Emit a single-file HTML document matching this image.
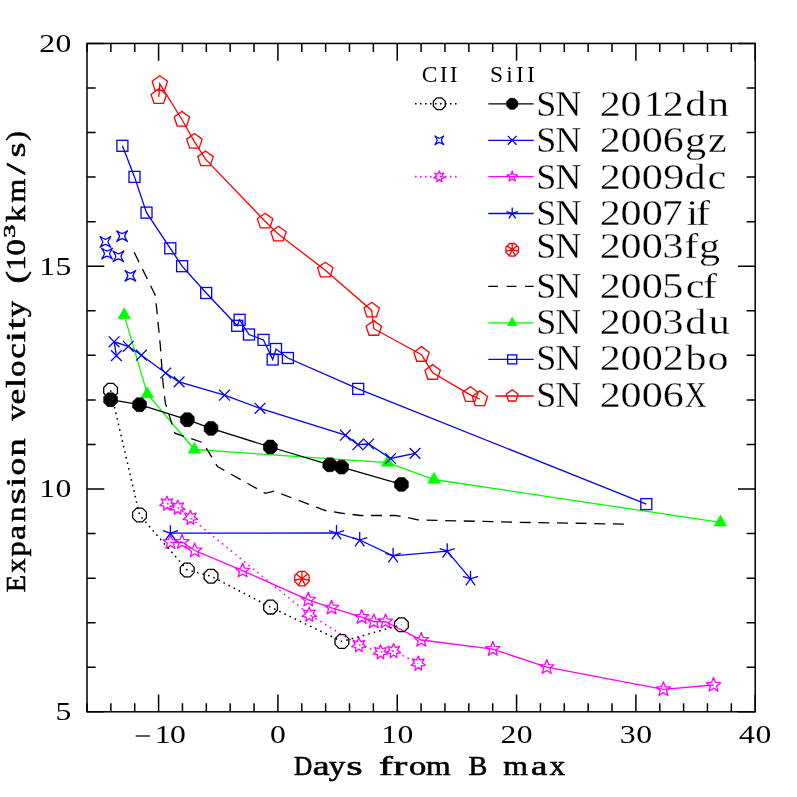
<!DOCTYPE html>
<html><head><meta charset="utf-8"><title>Expansion velocity</title>
<style>html,body{margin:0;padding:0;background:#fff;}svg{display:block;will-change:transform;}text{font-family:"Liberation Serif",serif;fill:#000;}</style></head><body>
<svg width="797" height="797" viewBox="0 0 797 797">
<rect x="0" y="0" width="797" height="797" fill="#fff"/>
<path d="M124.2 315.1L147.3 394L194.4 449.5L387.6 462.6L434 479.5L720.4 522.4" fill="none" stroke="#00ff00" stroke-width="1.3"/>
<polygon points="124.2,307.8 130.52,318.75 117.88,318.75" fill="#00ff00" stroke="#00ff00" stroke-width="0.6"/>
<polygon points="147.3,386.7 153.62,397.65 140.98,397.65" fill="#00ff00" stroke="#00ff00" stroke-width="0.6"/>
<polygon points="194.4,442.2 200.72,453.15 188.08,453.15" fill="#00ff00" stroke="#00ff00" stroke-width="0.6"/>
<polygon points="387.6,455.3 393.92,466.25 381.28,466.25" fill="#00ff00" stroke="#00ff00" stroke-width="0.6"/>
<polygon points="434,472.2 440.32,483.15 427.68,483.15" fill="#00ff00" stroke="#00ff00" stroke-width="0.6"/>
<polygon points="720.4,515.1 726.72,526.05 714.08,526.05" fill="#00ff00" stroke="#00ff00" stroke-width="0.6"/>
<path d="M122.4 145.8L134.5 176.9L146.5 212.6L170.3 248.3L182.1 266.2L206.2 293L237.2 325.8L239.6 319.8L249 334.5L263.5 339.9L272.7 359.5L276 349L287.9 358L358.2 388.9L646.3 504.1" fill="none" stroke="#0000ff" stroke-width="1.3"/>
<rect x="116.9" y="140.3" width="11" height="11" fill="none" stroke="#0000ff" stroke-width="1.3"/>
<rect x="129" y="171.4" width="11" height="11" fill="none" stroke="#0000ff" stroke-width="1.3"/>
<rect x="141" y="207.1" width="11" height="11" fill="none" stroke="#0000ff" stroke-width="1.3"/>
<rect x="164.8" y="242.8" width="11" height="11" fill="none" stroke="#0000ff" stroke-width="1.3"/>
<rect x="176.6" y="260.7" width="11" height="11" fill="none" stroke="#0000ff" stroke-width="1.3"/>
<rect x="200.7" y="287.5" width="11" height="11" fill="none" stroke="#0000ff" stroke-width="1.3"/>
<rect x="231.7" y="320.3" width="11" height="11" fill="none" stroke="#0000ff" stroke-width="1.3"/>
<rect x="234.1" y="314.3" width="11" height="11" fill="none" stroke="#0000ff" stroke-width="1.3"/>
<rect x="243.5" y="329" width="11" height="11" fill="none" stroke="#0000ff" stroke-width="1.3"/>
<rect x="258" y="334.4" width="11" height="11" fill="none" stroke="#0000ff" stroke-width="1.3"/>
<rect x="267.2" y="354" width="11" height="11" fill="none" stroke="#0000ff" stroke-width="1.3"/>
<rect x="270.5" y="343.5" width="11" height="11" fill="none" stroke="#0000ff" stroke-width="1.3"/>
<rect x="282.4" y="352.5" width="11" height="11" fill="none" stroke="#0000ff" stroke-width="1.3"/>
<rect x="352.7" y="383.4" width="11" height="11" fill="none" stroke="#0000ff" stroke-width="1.3"/>
<rect x="640.8" y="498.6" width="11" height="11" fill="none" stroke="#0000ff" stroke-width="1.3"/>
<path d="M158.8 96.9L159.8 83.8L181.9 119.5L194.4 141.6L205.5 159.1L265.1 221.3L278.5 234.3L325.3 270.3L371.7 310.4L373.8 328.7L421.5 354.7L432.6 372.7L470.3 394.8L479.9 399" fill="none" stroke="#ff0000" stroke-width="1.3"/>
<polygon points="158.8,88.8 166.5,94.4 163.56,103.45 154.04,103.45 151.1,94.4" fill="none" stroke="#ff0000" stroke-width="1.3"/>
<polygon points="159.8,75.7 167.5,81.3 164.56,90.35 155.04,90.35 152.1,81.3" fill="none" stroke="#ff0000" stroke-width="1.3"/>
<polygon points="181.9,111.4 189.6,117 186.66,126.05 177.14,126.05 174.2,117" fill="none" stroke="#ff0000" stroke-width="1.3"/>
<polygon points="194.4,133.5 202.1,139.1 199.16,148.15 189.64,148.15 186.7,139.1" fill="none" stroke="#ff0000" stroke-width="1.3"/>
<polygon points="205.5,151 213.2,156.6 210.26,165.65 200.74,165.65 197.8,156.6" fill="none" stroke="#ff0000" stroke-width="1.3"/>
<polygon points="265.1,213.2 272.8,218.8 269.86,227.85 260.34,227.85 257.4,218.8" fill="none" stroke="#ff0000" stroke-width="1.3"/>
<polygon points="278.5,226.2 286.2,231.8 283.26,240.85 273.74,240.85 270.8,231.8" fill="none" stroke="#ff0000" stroke-width="1.3"/>
<polygon points="325.3,262.2 333,267.8 330.06,276.85 320.54,276.85 317.6,267.8" fill="none" stroke="#ff0000" stroke-width="1.3"/>
<polygon points="371.7,302.3 379.4,307.9 376.46,316.95 366.94,316.95 364,307.9" fill="none" stroke="#ff0000" stroke-width="1.3"/>
<polygon points="373.8,320.6 381.5,326.2 378.56,335.25 369.04,335.25 366.1,326.2" fill="none" stroke="#ff0000" stroke-width="1.3"/>
<polygon points="421.5,346.6 429.2,352.2 426.26,361.25 416.74,361.25 413.8,352.2" fill="none" stroke="#ff0000" stroke-width="1.3"/>
<polygon points="432.6,364.6 440.3,370.2 437.36,379.25 427.84,379.25 424.9,370.2" fill="none" stroke="#ff0000" stroke-width="1.3"/>
<polygon points="470.3,386.7 478,392.3 475.06,401.35 465.54,401.35 462.6,392.3" fill="none" stroke="#ff0000" stroke-width="1.3"/>
<polygon points="479.9,390.9 487.6,396.5 484.66,405.55 475.14,405.55 472.2,396.5" fill="none" stroke="#ff0000" stroke-width="1.3"/>
<path d="M134.2 252.3L155.3 295.3L156.8 310L160.3 345.5L162.8 381L165.3 403L174.9 433.2L203 442.7L217.5 466.6L265.4 493.4L274.2 491.2L325.3 510.5L340.4 513L360.5 515.5L395.6 515.5L407.5 517.4L417.6 519.9L520 522.3L624 524.1" fill="none" stroke="#000" stroke-width="1.3" stroke-dasharray="11 7.64"/>
<path d="M167 503.6L177.7 507.6L190.4 517.7L309.3 614.6L358.9 645L380.5 652.2L393.6 651L418.3 663.5" fill="none" stroke="#ff00ff" stroke-width="1.55" stroke-dasharray="1.6 4.1"/>
<polygon points="167,496.15 168.68,500.11 172.82,498.96 170.78,502.74 174.26,505.26 170.03,506.02 170.23,510.31 167,507.47 163.77,510.31 163.97,506.02 159.74,505.26 163.22,502.74 161.18,498.96 165.32,500.11" fill="none" stroke="#ff00ff" stroke-width="1.3" stroke-linejoin="round"/>
<polygon points="177.7,500.15 179.38,504.11 183.52,502.96 181.48,506.74 184.96,509.26 180.73,510.02 180.93,514.31 177.7,511.47 174.47,514.31 174.67,510.02 170.44,509.26 173.92,506.74 171.88,502.96 176.02,504.11" fill="none" stroke="#ff00ff" stroke-width="1.3" stroke-linejoin="round"/>
<polygon points="190.4,510.25 192.08,514.21 196.22,513.06 194.18,516.84 197.66,519.36 193.43,520.12 193.63,524.41 190.4,521.57 187.17,524.41 187.37,520.12 183.14,519.36 186.62,516.84 184.58,513.06 188.72,514.21" fill="none" stroke="#ff00ff" stroke-width="1.3" stroke-linejoin="round"/>
<polygon points="309.3,607.15 310.98,611.11 315.12,609.96 313.08,613.74 316.56,616.26 312.33,617.02 312.53,621.31 309.3,618.47 306.07,621.31 306.27,617.02 302.04,616.26 305.52,613.74 303.48,609.96 307.62,611.11" fill="none" stroke="#ff00ff" stroke-width="1.3" stroke-linejoin="round"/>
<polygon points="358.9,637.55 360.58,641.51 364.72,640.36 362.68,644.14 366.16,646.66 361.93,647.42 362.13,651.71 358.9,648.87 355.67,651.71 355.87,647.42 351.64,646.66 355.12,644.14 353.08,640.36 357.22,641.51" fill="none" stroke="#ff00ff" stroke-width="1.3" stroke-linejoin="round"/>
<polygon points="380.5,644.75 382.18,648.71 386.32,647.56 384.28,651.34 387.76,653.86 383.53,654.62 383.73,658.91 380.5,656.07 377.27,658.91 377.47,654.62 373.24,653.86 376.72,651.34 374.68,647.56 378.82,648.71" fill="none" stroke="#ff00ff" stroke-width="1.3" stroke-linejoin="round"/>
<polygon points="393.6,643.55 395.28,647.51 399.42,646.36 397.38,650.14 400.86,652.66 396.63,653.42 396.83,657.71 393.6,654.87 390.37,657.71 390.57,653.42 386.34,652.66 389.82,650.14 387.78,646.36 391.92,647.51" fill="none" stroke="#ff00ff" stroke-width="1.3" stroke-linejoin="round"/>
<polygon points="418.3,656.05 419.98,660.01 424.12,658.86 422.08,662.64 425.56,665.16 421.33,665.92 421.53,670.21 418.3,667.37 415.07,670.21 415.27,665.92 411.04,665.16 414.52,662.64 412.48,658.86 416.62,660.01" fill="none" stroke="#ff00ff" stroke-width="1.3" stroke-linejoin="round"/>
<path d="M170.4 542.3L182 542L194.7 550.5L242.6 570.7L308.3 599.8L331.6 607.8L361.7 617.1L373.8 621.6L385.5 621.6L421.3 640L492.8 649.1L546.8 667.2L663.4 689.4L713.5 685" fill="none" stroke="#ff00ff" stroke-width="1.3"/>
<polygon points="170.4,534.75 172.31,539.67 177.58,539.97 173.49,543.3 174.84,548.41 170.4,545.55 165.96,548.41 167.31,543.3 163.22,539.97 168.49,539.67" fill="none" stroke="#ff00ff" stroke-width="1.3" stroke-linejoin="round"/>
<polygon points="182,534.45 183.91,539.37 189.18,539.67 185.09,543 186.44,548.11 182,545.25 177.56,548.11 178.91,543 174.82,539.67 180.09,539.37" fill="none" stroke="#ff00ff" stroke-width="1.3" stroke-linejoin="round"/>
<polygon points="194.7,542.95 196.61,547.87 201.88,548.17 197.79,551.5 199.14,556.61 194.7,553.75 190.26,556.61 191.61,551.5 187.52,548.17 192.79,547.87" fill="none" stroke="#ff00ff" stroke-width="1.3" stroke-linejoin="round"/>
<polygon points="242.6,563.15 244.51,568.07 249.78,568.37 245.69,571.7 247.04,576.81 242.6,573.95 238.16,576.81 239.51,571.7 235.42,568.37 240.69,568.07" fill="none" stroke="#ff00ff" stroke-width="1.3" stroke-linejoin="round"/>
<polygon points="308.3,592.25 310.21,597.17 315.48,597.47 311.39,600.8 312.74,605.91 308.3,603.05 303.86,605.91 305.21,600.8 301.12,597.47 306.39,597.17" fill="none" stroke="#ff00ff" stroke-width="1.3" stroke-linejoin="round"/>
<polygon points="331.6,600.25 333.51,605.17 338.78,605.47 334.69,608.8 336.04,613.91 331.6,611.05 327.16,613.91 328.51,608.8 324.42,605.47 329.69,605.17" fill="none" stroke="#ff00ff" stroke-width="1.3" stroke-linejoin="round"/>
<polygon points="361.7,609.55 363.61,614.47 368.88,614.77 364.79,618.1 366.14,623.21 361.7,620.35 357.26,623.21 358.61,618.1 354.52,614.77 359.79,614.47" fill="none" stroke="#ff00ff" stroke-width="1.3" stroke-linejoin="round"/>
<polygon points="373.8,614.05 375.71,618.97 380.98,619.27 376.89,622.6 378.24,627.71 373.8,624.85 369.36,627.71 370.71,622.6 366.62,619.27 371.89,618.97" fill="none" stroke="#ff00ff" stroke-width="1.3" stroke-linejoin="round"/>
<polygon points="385.5,614.05 387.41,618.97 392.68,619.27 388.59,622.6 389.94,627.71 385.5,624.85 381.06,627.71 382.41,622.6 378.32,619.27 383.59,618.97" fill="none" stroke="#ff00ff" stroke-width="1.3" stroke-linejoin="round"/>
<polygon points="421.3,632.45 423.21,637.37 428.48,637.67 424.39,641 425.74,646.11 421.3,643.25 416.86,646.11 418.21,641 414.12,637.67 419.39,637.37" fill="none" stroke="#ff00ff" stroke-width="1.3" stroke-linejoin="round"/>
<polygon points="492.8,641.55 494.71,646.47 499.98,646.77 495.89,650.1 497.24,655.21 492.8,652.35 488.36,655.21 489.71,650.1 485.62,646.77 490.89,646.47" fill="none" stroke="#ff00ff" stroke-width="1.3" stroke-linejoin="round"/>
<polygon points="546.8,659.65 548.71,664.57 553.98,664.87 549.89,668.2 551.24,673.31 546.8,670.45 542.36,673.31 543.71,668.2 539.62,664.87 544.89,664.57" fill="none" stroke="#ff00ff" stroke-width="1.3" stroke-linejoin="round"/>
<polygon points="663.4,681.85 665.31,686.77 670.58,687.07 666.49,690.4 667.84,695.51 663.4,692.65 658.96,695.51 660.31,690.4 656.22,687.07 661.49,686.77" fill="none" stroke="#ff00ff" stroke-width="1.3" stroke-linejoin="round"/>
<polygon points="713.5,677.45 715.41,682.37 720.68,682.67 716.59,686 717.94,691.11 713.5,688.25 709.06,691.11 710.41,686 706.32,682.67 711.59,682.37" fill="none" stroke="#ff00ff" stroke-width="1.3" stroke-linejoin="round"/>
<path d="M170.4 533.2L336.5 533L359.7 540L393.1 555.8L447.2 551.2L470.5 578.8" fill="none" stroke="#0000ff" stroke-width="1.3"/>
<path d="M170.4 533.2L170.4 525.2M170.4 533.2L178.01 530.73M170.4 533.2L175.1 539.67M170.4 533.2L165.7 539.67M170.4 533.2L162.79 530.73" fill="none" stroke="#0000ff" stroke-width="1.3"/>
<path d="M336.5 533L336.5 525M336.5 533L344.11 530.53M336.5 533L341.2 539.47M336.5 533L331.8 539.47M336.5 533L328.89 530.53" fill="none" stroke="#0000ff" stroke-width="1.3"/>
<path d="M359.7 540L359.7 532M359.7 540L367.31 537.53M359.7 540L364.4 546.47M359.7 540L355 546.47M359.7 540L352.09 537.53" fill="none" stroke="#0000ff" stroke-width="1.3"/>
<path d="M393.1 555.8L393.1 547.8M393.1 555.8L400.71 553.33M393.1 555.8L397.8 562.27M393.1 555.8L388.4 562.27M393.1 555.8L385.49 553.33" fill="none" stroke="#0000ff" stroke-width="1.3"/>
<path d="M447.2 551.2L447.2 543.2M447.2 551.2L454.81 548.73M447.2 551.2L451.9 557.67M447.2 551.2L442.5 557.67M447.2 551.2L439.59 548.73" fill="none" stroke="#0000ff" stroke-width="1.3"/>
<path d="M470.5 578.8L470.5 570.8M470.5 578.8L478.11 576.33M470.5 578.8L475.2 585.27M470.5 578.8L465.8 585.27M470.5 578.8L462.89 576.33" fill="none" stroke="#0000ff" stroke-width="1.3"/>
<path d="M116.4 355.6L114.1 341.8L128.3 346.3L141.4 355.2L165.7 373L179.1 381.9L224.5 395.2L260 408.3L345.4 435.2L357.9 444.7L368.7 444L390.6 458.5L415 453.4" fill="none" stroke="#0000ff" stroke-width="1.3"/>
<path d="M111 350.2L121.8 361M111 361L121.8 350.2" fill="none" stroke="#0000ff" stroke-width="1.3"/>
<path d="M108.7 336.4L119.5 347.2M108.7 347.2L119.5 336.4" fill="none" stroke="#0000ff" stroke-width="1.3"/>
<path d="M122.9 340.9L133.7 351.7M122.9 351.7L133.7 340.9" fill="none" stroke="#0000ff" stroke-width="1.3"/>
<path d="M136 349.8L146.8 360.6M136 360.6L146.8 349.8" fill="none" stroke="#0000ff" stroke-width="1.3"/>
<path d="M160.3 367.6L171.1 378.4M160.3 378.4L171.1 367.6" fill="none" stroke="#0000ff" stroke-width="1.3"/>
<path d="M173.7 376.5L184.5 387.3M173.7 387.3L184.5 376.5" fill="none" stroke="#0000ff" stroke-width="1.3"/>
<path d="M219.1 389.8L229.9 400.6M219.1 400.6L229.9 389.8" fill="none" stroke="#0000ff" stroke-width="1.3"/>
<path d="M254.6 402.9L265.4 413.7M254.6 413.7L265.4 402.9" fill="none" stroke="#0000ff" stroke-width="1.3"/>
<path d="M340 429.8L350.8 440.6M340 440.6L350.8 429.8" fill="none" stroke="#0000ff" stroke-width="1.3"/>
<path d="M352.5 439.3L363.3 450.1M352.5 450.1L363.3 439.3" fill="none" stroke="#0000ff" stroke-width="1.3"/>
<path d="M363.3 438.6L374.1 449.4M363.3 449.4L374.1 438.6" fill="none" stroke="#0000ff" stroke-width="1.3"/>
<path d="M385.2 453.1L396 463.9M385.2 463.9L396 453.1" fill="none" stroke="#0000ff" stroke-width="1.3"/>
<path d="M409.6 448L420.4 458.8M409.6 458.8L420.4 448" fill="none" stroke="#0000ff" stroke-width="1.3"/>
<path d="M127.47 230.83Q124.3 232.97 122.1 233.69Q119.9 232.97 116.73 230.83Q118.87 234 119.59 236.2Q118.87 238.4 116.73 241.57Q119.9 239.43 122.1 238.71Q124.3 239.43 127.47 241.57Q125.33 238.4 124.61 236.2Q125.33 234 127.47 230.83Z" fill="none" stroke="#0000ff" stroke-width="1.3" stroke-linejoin="round"/>
<path d="M110.77 236.53Q107.6 238.67 105.4 239.39Q103.2 238.67 100.03 236.53Q102.17 239.7 102.89 241.9Q102.17 244.1 100.03 247.27Q103.2 245.13 105.4 244.41Q107.6 245.13 110.77 247.27Q108.63 244.1 107.91 241.9Q108.63 239.7 110.77 236.53Z" fill="none" stroke="#0000ff" stroke-width="1.3" stroke-linejoin="round"/>
<path d="M112.42 248.33Q109.25 250.47 107.05 251.19Q104.85 250.47 101.68 248.33Q103.82 251.5 104.54 253.7Q103.82 255.9 101.68 259.07Q104.85 256.93 107.05 256.21Q109.25 256.93 112.42 259.07Q110.28 255.9 109.56 253.7Q110.28 251.5 112.42 248.33Z" fill="none" stroke="#0000ff" stroke-width="1.3" stroke-linejoin="round"/>
<path d="M123.77 251.03Q120.6 253.17 118.4 253.89Q116.2 253.17 113.03 251.03Q115.17 254.2 115.89 256.4Q115.17 258.6 113.03 261.77Q116.2 259.63 118.4 258.91Q120.6 259.63 123.77 261.77Q121.63 258.6 120.91 256.4Q121.63 254.2 123.77 251.03Z" fill="none" stroke="#0000ff" stroke-width="1.3" stroke-linejoin="round"/>
<path d="M135.77 270.43Q132.6 272.57 130.4 273.29Q128.2 272.57 125.03 270.43Q127.17 273.6 127.89 275.8Q127.17 278 125.03 281.17Q128.2 279.03 130.4 278.31Q132.6 279.03 135.77 281.17Q133.63 278 132.91 275.8Q133.63 273.6 135.77 270.43Z" fill="none" stroke="#0000ff" stroke-width="1.3" stroke-linejoin="round"/>
<path d="M110.6 390.3L139.5 515L187.2 570L211 576.2L270.6 607.1L341.9 641.5L401.4 624.8" fill="none" stroke="#000" stroke-width="1.55" stroke-dasharray="1.6 4.1"/>
<polygon points="113.45,383.42 117.48,387.45 117.48,393.15 113.45,397.18 107.75,397.18 103.72,393.15 103.72,387.45 107.75,383.42" fill="none" stroke="#000" stroke-width="1.3"/>
<polygon points="142.35,508.12 146.38,512.15 146.38,517.85 142.35,521.88 136.65,521.88 132.62,517.85 132.62,512.15 136.65,508.12" fill="none" stroke="#000" stroke-width="1.3"/>
<polygon points="190.05,563.12 194.08,567.15 194.08,572.85 190.05,576.88 184.35,576.88 180.32,572.85 180.32,567.15 184.35,563.12" fill="none" stroke="#000" stroke-width="1.3"/>
<polygon points="213.85,569.32 217.88,573.35 217.88,579.05 213.85,583.08 208.15,583.08 204.12,579.05 204.12,573.35 208.15,569.32" fill="none" stroke="#000" stroke-width="1.3"/>
<polygon points="273.45,600.22 277.48,604.25 277.48,609.95 273.45,613.98 267.75,613.98 263.72,609.95 263.72,604.25 267.75,600.22" fill="none" stroke="#000" stroke-width="1.3"/>
<polygon points="344.75,634.62 348.78,638.65 348.78,644.35 344.75,648.38 339.05,648.38 335.02,644.35 335.02,638.65 339.05,634.62" fill="none" stroke="#000" stroke-width="1.3"/>
<polygon points="404.25,617.92 408.28,621.95 408.28,627.65 404.25,631.68 398.55,631.68 394.52,627.65 394.52,621.95 398.55,617.92" fill="none" stroke="#000" stroke-width="1.3"/>
<path d="M110.6 399.7L139.5 404.7L187.3 419.7L211 428.4L270.3 447L329.8 464.8L341.6 467.1L401.4 484.4" fill="none" stroke="#000" stroke-width="1.3"/>
<polygon points="113.47,392.77 117.53,396.83 117.53,402.57 113.47,406.63 107.73,406.63 103.67,402.57 103.67,396.83 107.73,392.77" fill="#000" stroke="#000" stroke-width="0.6"/>
<polygon points="142.37,397.77 146.43,401.83 146.43,407.57 142.37,411.63 136.63,411.63 132.57,407.57 132.57,401.83 136.63,397.77" fill="#000" stroke="#000" stroke-width="0.6"/>
<polygon points="190.17,412.77 194.23,416.83 194.23,422.57 190.17,426.63 184.43,426.63 180.37,422.57 180.37,416.83 184.43,412.77" fill="#000" stroke="#000" stroke-width="0.6"/>
<polygon points="213.87,421.47 217.93,425.53 217.93,431.27 213.87,435.33 208.13,435.33 204.07,431.27 204.07,425.53 208.13,421.47" fill="#000" stroke="#000" stroke-width="0.6"/>
<polygon points="273.17,440.07 277.23,444.13 277.23,449.87 273.17,453.93 267.43,453.93 263.37,449.87 263.37,444.13 267.43,440.07" fill="#000" stroke="#000" stroke-width="0.6"/>
<polygon points="332.67,457.87 336.73,461.93 336.73,467.67 332.67,471.73 326.93,471.73 322.87,467.67 322.87,461.93 326.93,457.87" fill="#000" stroke="#000" stroke-width="0.6"/>
<polygon points="344.47,460.17 348.53,464.23 348.53,469.97 344.47,474.03 338.73,474.03 334.67,469.97 334.67,464.23 338.73,460.17" fill="#000" stroke="#000" stroke-width="0.6"/>
<polygon points="404.27,477.47 408.33,481.53 408.33,487.27 404.27,491.33 398.53,491.33 394.47,487.27 394.47,481.53 398.53,477.47" fill="#000" stroke="#000" stroke-width="0.6"/>
<polygon points="304.88,571.39 309.11,575.62 309.11,581.58 304.88,585.81 298.92,585.81 294.69,581.58 294.69,575.62 298.92,571.39" fill="none" stroke="#ff0000" stroke-width="1.3"/>
<path d="M301.9 578.6L301.9 571.19M301.9 578.6L307.69 573.98M301.9 578.6L309.12 580.25M301.9 578.6L305.12 585.28M301.9 578.6L298.68 585.28M301.9 578.6L294.68 580.25M301.9 578.6L296.11 573.98" fill="none" stroke="#ff0000" stroke-width="1.3"/>
<rect x="87" y="43.45" width="668.2" height="668.35" fill="none" stroke="#000" stroke-width="1.5"/>
<path d="M87 711.8v-8.6M87 43.45v8.6M110.86 711.8v-8.6M110.86 43.45v8.6M134.73 711.8v-8.6M134.73 43.45v8.6M158.59 711.8v-17.3M158.59 43.45v17.3M182.46 711.8v-8.6M182.46 43.45v8.6M206.32 711.8v-8.6M206.32 43.45v8.6M230.19 711.8v-8.6M230.19 43.45v8.6M254.05 711.8v-8.6M254.05 43.45v8.6M277.91 711.8v-17.3M277.91 43.45v17.3M301.78 711.8v-8.6M301.78 43.45v8.6M325.64 711.8v-8.6M325.64 43.45v8.6M349.51 711.8v-8.6M349.51 43.45v8.6M373.37 711.8v-8.6M373.37 43.45v8.6M397.24 711.8v-17.3M397.24 43.45v17.3M421.1 711.8v-8.6M421.1 43.45v8.6M444.96 711.8v-8.6M444.96 43.45v8.6M468.83 711.8v-8.6M468.83 43.45v8.6M492.69 711.8v-8.6M492.69 43.45v8.6M516.56 711.8v-17.3M516.56 43.45v17.3M540.42 711.8v-8.6M540.42 43.45v8.6M564.29 711.8v-8.6M564.29 43.45v8.6M588.15 711.8v-8.6M588.15 43.45v8.6M612.01 711.8v-8.6M612.01 43.45v8.6M635.88 711.8v-17.3M635.88 43.45v17.3M659.74 711.8v-8.6M659.74 43.45v8.6M683.61 711.8v-8.6M683.61 43.45v8.6M707.47 711.8v-8.6M707.47 43.45v8.6M731.34 711.8v-8.6M731.34 43.45v8.6M755.2 711.8v-17.3M755.2 43.45v17.3M87 711.8h17.3M755.2 711.8h-17.3M87 667.24h8.6M755.2 667.24h-8.6M87 622.69h8.6M755.2 622.69h-8.6M87 578.13h8.6M755.2 578.13h-8.6M87 533.57h8.6M755.2 533.57h-8.6M87 489.02h17.3M755.2 489.02h-17.3M87 444.46h8.6M755.2 444.46h-8.6M87 399.9h8.6M755.2 399.9h-8.6M87 355.35h8.6M755.2 355.35h-8.6M87 310.79h8.6M755.2 310.79h-8.6M87 266.23h17.3M755.2 266.23h-17.3M87 221.68h8.6M755.2 221.68h-8.6M87 177.12h8.6M755.2 177.12h-8.6M87 132.56h8.6M755.2 132.56h-8.6M87 88.01h8.6M755.2 88.01h-8.6M87 43.45h17.3M755.2 43.45h-17.3" fill="none" stroke="#000" stroke-width="1.5"/>
<path d="M135.6 736h14.2" stroke="#000" stroke-width="1.3" fill="none"/>
<text transform="translate(169.9,743.3) scale(1.22,1)" font-size="26" letter-spacing="-0.49" text-anchor="middle">10</text>
<text transform="translate(278.16,743.3) scale(1.22,1)" font-size="26" letter-spacing="0.41" text-anchor="middle">0</text>
<text transform="translate(397.49,743.3) scale(1.22,1)" font-size="26" letter-spacing="0.41" text-anchor="middle">10</text>
<text transform="translate(516.81,743.3) scale(1.22,1)" font-size="26" letter-spacing="0.41" text-anchor="middle">20</text>
<text transform="translate(636.13,743.3) scale(1.22,1)" font-size="26" letter-spacing="0.41" text-anchor="middle">30</text>
<text transform="translate(755.45,743.3) scale(1.22,1)" font-size="26" letter-spacing="0.41" text-anchor="middle">40</text>
<text transform="translate(71.9,720.25) scale(1.22,1)" font-size="26" letter-spacing="0.41" text-anchor="end">5</text>
<text transform="translate(71.9,497.47) scale(1.22,1)" font-size="26" letter-spacing="0.41" text-anchor="end">10</text>
<text transform="translate(71.9,274.68) scale(1.22,1)" font-size="26" letter-spacing="0.41" text-anchor="end">15</text>
<text transform="translate(71.9,51.9) scale(1.22,1)" font-size="26" letter-spacing="0.41" text-anchor="end">20</text>
<text transform="translate(294.07,775.2) scale(0.96,1)" font-size="26.4" stroke="#000" stroke-width="0.55">D</text>
<text transform="translate(312.87,775.2) scale(1.44,1)" font-size="26.4" stroke="#000" stroke-width="0.55">a</text>
<text transform="translate(328.8,775.2) scale(1.25,1)" font-size="26.4" stroke="#000" stroke-width="0.55">y</text>
<text transform="translate(346.27,775.2) scale(1.6,1)" font-size="26.4" stroke="#000" stroke-width="0.55">s</text>
<text transform="translate(378.7,775.2) scale(1.6,1)" font-size="26.4" stroke="#000" stroke-width="0.55">f</text>
<text transform="translate(393.35,775.2) scale(1.6,1)" font-size="26.4" stroke="#000" stroke-width="0.55">r</text>
<text transform="translate(408.88,775.2) scale(1.31,1)" font-size="26.4" stroke="#000" stroke-width="0.55">o</text>
<text transform="translate(425.93,775.2) scale(1.2,1)" font-size="26.4" stroke="#000" stroke-width="0.55">m</text>
<text transform="translate(468.49,775.2) scale(1.07,1)" font-size="26.4" stroke="#000" stroke-width="0.55">B</text>
<text transform="translate(503.13,775.2) scale(1.2,1)" font-size="26.4" stroke="#000" stroke-width="0.55">m</text>
<text transform="translate(531.1,775.2) scale(1.4,1)" font-size="26.4" stroke="#000" stroke-width="0.55">a</text>
<text transform="translate(549.62,775.2) scale(1.19,1)" font-size="26.4" stroke="#000" stroke-width="0.55">x</text>
<text transform="translate(24.8,592.21) rotate(-90) scale(1.07,1)" font-size="26.4" stroke="#000" stroke-width="0.55">E</text>
<text transform="translate(24.8,572.85) rotate(-90) scale(1.08,1)" font-size="26.4" stroke="#000" stroke-width="0.55">x</text>
<text transform="translate(24.8,556.49) rotate(-90) scale(1.15,1)" font-size="26.4" stroke="#000" stroke-width="0.55">p</text>
<text transform="translate(24.8,539.9) rotate(-90) scale(1.29,1)" font-size="26.4" stroke="#000" stroke-width="0.55">a</text>
<text transform="translate(24.8,522.11) rotate(-90) scale(1.17,1)" font-size="26.4" stroke="#000" stroke-width="0.55">n</text>
<text transform="translate(24.8,504.32) rotate(-90) scale(1.59,1)" font-size="26.4" stroke="#000" stroke-width="0.55">s</text>
<text transform="translate(24.8,487.28) rotate(-90) scale(1.4,1)" font-size="26.4" stroke="#000" stroke-width="0.55">i</text>
<text transform="translate(24.8,475.55) rotate(-90) scale(1.34,1)" font-size="26.4" stroke="#000" stroke-width="0.55">o</text>
<text transform="translate(24.8,456.53) rotate(-90) scale(1.37,1)" font-size="26.4" stroke="#000" stroke-width="0.55">n</text>
<text transform="translate(24.8,420.6) rotate(-90) scale(1.2,1)" font-size="26.4" stroke="#000" stroke-width="0.55">v</text>
<text transform="translate(24.8,404.38) rotate(-90) scale(1.34,1)" font-size="26.4" stroke="#000" stroke-width="0.55">e</text>
<text transform="translate(24.8,387.94) rotate(-90) scale(1.4,1)" font-size="26.4" stroke="#000" stroke-width="0.55">l</text>
<text transform="translate(24.8,377.06) rotate(-90) scale(1.25,1)" font-size="26.4" stroke="#000" stroke-width="0.55">o</text>
<text transform="translate(24.8,358.63) rotate(-90) scale(1.32,1)" font-size="26.4" stroke="#000" stroke-width="0.55">c</text>
<text transform="translate(24.8,342.35) rotate(-90) scale(1.53,1)" font-size="26.4" stroke="#000" stroke-width="0.55">i</text>
<text transform="translate(24.8,329.59) rotate(-90) scale(1.52,1)" font-size="26.4" stroke="#000" stroke-width="0.55">t</text>
<text transform="translate(24.8,317.3) rotate(-90) scale(1.24,1)" font-size="26.4" stroke="#000" stroke-width="0.55">y</text>
<text transform="translate(24.8,283.44) rotate(-90) scale(1.42,1)" font-size="26.4" stroke="#000" stroke-width="0.55">(</text>
<text transform="translate(24.8,270.45) rotate(-90) scale(1.14,1)" font-size="26.4" stroke="#000" stroke-width="0.55">1</text>
<text transform="translate(24.8,255.87) rotate(-90) scale(1.26,1)" font-size="26.4" stroke="#000" stroke-width="0.55">0</text>
<text transform="translate(24.8,222.03) rotate(-90) scale(1.24,1)" font-size="26.4" stroke="#000" stroke-width="0.55">k</text>
<text transform="translate(24.8,202.44) rotate(-90) scale(1.15,1)" font-size="26.4" stroke="#000" stroke-width="0.55">m</text>
<text transform="translate(24.8,174.7) rotate(-90) scale(1.6,1)" font-size="26.4" stroke="#000" stroke-width="0.55">/</text>
<text transform="translate(24.8,157.49) rotate(-90) scale(1.47,1)" font-size="26.4" stroke="#000" stroke-width="0.55">s</text>
<text transform="translate(24.8,140.94) rotate(-90) scale(1.11,1)" font-size="26.4" stroke="#000" stroke-width="0.55">)</text>
<text transform="translate(14.9,237.66) rotate(-90) scale(1.6,1)" font-size="16.5" stroke="#000" stroke-width="0.55">3</text>
<text transform="translate(421.7,81.6)" font-size="23.5" letter-spacing="2.3">CII</text>
<text transform="translate(490,81.6)" font-size="23.5" letter-spacing="3.2">SiII</text>
<text transform="translate(536.3,115.6)" font-size="36" x="-0.01 19.06" stroke="#fff" stroke-width="0.3">SN</text>
<text transform="translate(599.85,115.6) scale(1.17,1)" font-size="36" x="0 17.74 37.39 53.76 73.02 92.47" stroke="#fff" stroke-width="0.3">2012dn</text>
<text transform="translate(536.3,152)" font-size="36" x="-0.01 19.06" stroke="#fff" stroke-width="0.3">SN</text>
<text transform="translate(599.85,152) scale(1.17,1)" font-size="36" x="0 17.74 35.77 53.8 72.77 92.49" stroke="#fff" stroke-width="0.3">2006gz</text>
<text transform="translate(536.3,188.5)" font-size="36" x="-0.01 19.06" stroke="#fff" stroke-width="0.3">SN</text>
<text transform="translate(599.85,188.5) scale(1.17,1)" font-size="36" x="0 17.74 35.77 54.19 72.34 92.1" stroke="#fff" stroke-width="0.3">2009dc</text>
<text transform="translate(536.3,225)" font-size="36" x="-0.01 19.06" stroke="#fff" stroke-width="0.3">SN</text>
<text transform="translate(599.85,225) scale(1.17,1)" font-size="36" x="0 17.74 35.77 52.97 73.99 82.18" stroke="#fff" stroke-width="0.3">2007if</text>
<text transform="translate(536.3,257.5)" font-size="36" x="-0.01 19.06" stroke="#fff" stroke-width="0.3">SN</text>
<text transform="translate(599.85,257.5) scale(1.17,1)" font-size="36" x="0 17.74 35.77 53.62 72.09 84.65" stroke="#fff" stroke-width="0.3">2003fg</text>
<text transform="translate(536.3,298)" font-size="36" x="-0.01 19.06" stroke="#fff" stroke-width="0.3">SN</text>
<text transform="translate(599.85,298) scale(1.17,1)" font-size="36" x="0 17.74 35.77 53.26 73.38 88.25" stroke="#fff" stroke-width="0.3">2005cf</text>
<text transform="translate(536.3,334.3)" font-size="36" x="-0.01 19.06" stroke="#fff" stroke-width="0.3">SN</text>
<text transform="translate(599.85,334.3) scale(1.17,1)" font-size="36" x="0 17.74 35.77 53.62 73.02 93" stroke="#fff" stroke-width="0.3">2003du</text>
<text transform="translate(536.3,370.4)" font-size="36" x="-0.01 19.06" stroke="#fff" stroke-width="0.3">SN</text>
<text transform="translate(599.85,370.4) scale(1.17,1)" font-size="36" x="0 17.74 35.77 53.76 73.21 92.1" stroke="#fff" stroke-width="0.3">2002bo</text>
<text transform="translate(536.3,407.2)" font-size="36" x="-0.01 19.06" stroke="#fff" stroke-width="0.3">SN</text>
<text transform="translate(599.85,407.2) scale(1.17,1)" font-size="36" x="0 17.74 35.77 53.8" stroke="#fff" stroke-width="0.3">2006</text>
<text transform="translate(684.83,407.2) scale(0.84,1)" font-size="36" stroke="#fff" stroke-width="0.3">X</text>
<path d="M488.3 103.8L533.7 103.8" fill="none" stroke="#000" stroke-width="1.3"/>
<polygon points="514.5,98.26 517.74,101.5 517.74,106.1 514.5,109.34 509.9,109.34 506.66,106.1 506.66,101.5 509.9,98.26" fill="#000" stroke="#000" stroke-width="0.6"/>
<path d="M488.3 140.3L533.7 140.3" fill="none" stroke="#0000ff" stroke-width="1.3"/>
<path d="M507.8 135.9L516.6 144.7M507.8 144.7L516.6 135.9" fill="none" stroke="#0000ff" stroke-width="1.3"/>
<path d="M488.3 176.6L533.7 176.6" fill="none" stroke="#ff00ff" stroke-width="1.3"/>
<polygon points="512.2,171.2 513.56,174.72 517.34,174.93 514.41,177.32 515.37,180.97 512.2,178.92 509.03,180.97 509.99,177.32 507.06,174.93 510.84,174.72" fill="none" stroke="#ff00ff" stroke-width="1.3" stroke-linejoin="round"/>
<path d="M488.3 213.5L533.7 213.5" fill="none" stroke="#0000ff" stroke-width="1.3"/>
<path d="M512.2 213.5L512.2 207.5M512.2 213.5L517.91 211.65M512.2 213.5L515.73 218.35M512.2 213.5L508.67 218.35M512.2 213.5L506.49 211.65" fill="none" stroke="#0000ff" stroke-width="1.3"/>
<polygon points="514.8,243.52 518.48,247.2 518.48,252.4 514.8,256.08 509.6,256.08 505.92,252.4 505.92,247.2 509.6,243.52" fill="none" stroke="#ff0000" stroke-width="1.3"/>
<path d="M512.2 249.8L512.2 243.34M512.2 249.8L517.25 245.77M512.2 249.8L518.5 251.24M512.2 249.8L515 255.62M512.2 249.8L509.4 255.62M512.2 249.8L505.9 251.24M512.2 249.8L507.15 245.77" fill="none" stroke="#ff0000" stroke-width="1.3"/>
<path d="M488.3 286.3L533.7 286.3" fill="none" stroke="#000" stroke-width="1.3" stroke-dasharray="9.7 8.7"/>
<path d="M488.3 322.9L533.7 322.9" fill="none" stroke="#00ff00" stroke-width="1.3"/>
<polygon points="512.2,317.2 517.14,325.75 507.26,325.75" fill="#00ff00" stroke="#00ff00" stroke-width="0.6"/>
<path d="M488.3 359.4L533.7 359.4" fill="none" stroke="#0000ff" stroke-width="1.3"/>
<rect x="507.7" y="354.9" width="9" height="9" fill="none" stroke="#0000ff" stroke-width="1.3"/>
<path d="M495.3 396L533.7 396" fill="none" stroke="#ff0000" stroke-width="1.3"/>
<polygon points="512.2,389.8 518.1,394.08 515.84,401.02 508.56,401.02 506.3,394.08" fill="none" stroke="#ff0000" stroke-width="1.3"/>
<path d="M415 103.8L459 103.8" fill="none" stroke="#000" stroke-width="1.55" stroke-dasharray="1.6 3.4"/>
<polygon points="441.75,97.89 445.21,101.35 445.21,106.25 441.75,109.71 436.85,109.71 433.39,106.25 433.39,101.35 436.85,97.89" fill="none" stroke="#000" stroke-width="1.3"/>
<path d="M443.68 135.92Q441.1 137.66 439.3 138.25Q437.5 137.66 434.92 135.92Q436.66 138.5 437.25 140.3Q436.66 142.1 434.92 144.68Q437.5 142.94 439.3 142.35Q441.1 142.94 443.68 144.68Q441.94 142.1 441.35 140.3Q441.94 138.5 443.68 135.92Z" fill="none" stroke="#0000ff" stroke-width="1.3" stroke-linejoin="round"/>
<path d="M415 176.6L459 176.6" fill="none" stroke="#ff00ff" stroke-width="1.55" stroke-dasharray="1.6 3.4"/>
<polygon points="439.3,170.9 440.59,173.93 443.76,173.05 442.19,175.94 444.86,177.87 441.62,178.45 441.77,181.74 439.3,179.56 436.83,181.74 436.98,178.45 433.74,177.87 436.41,175.94 434.84,173.05 438.01,173.93" fill="none" stroke="#ff00ff" stroke-width="1.3" stroke-linejoin="round"/>
</svg></body></html>
